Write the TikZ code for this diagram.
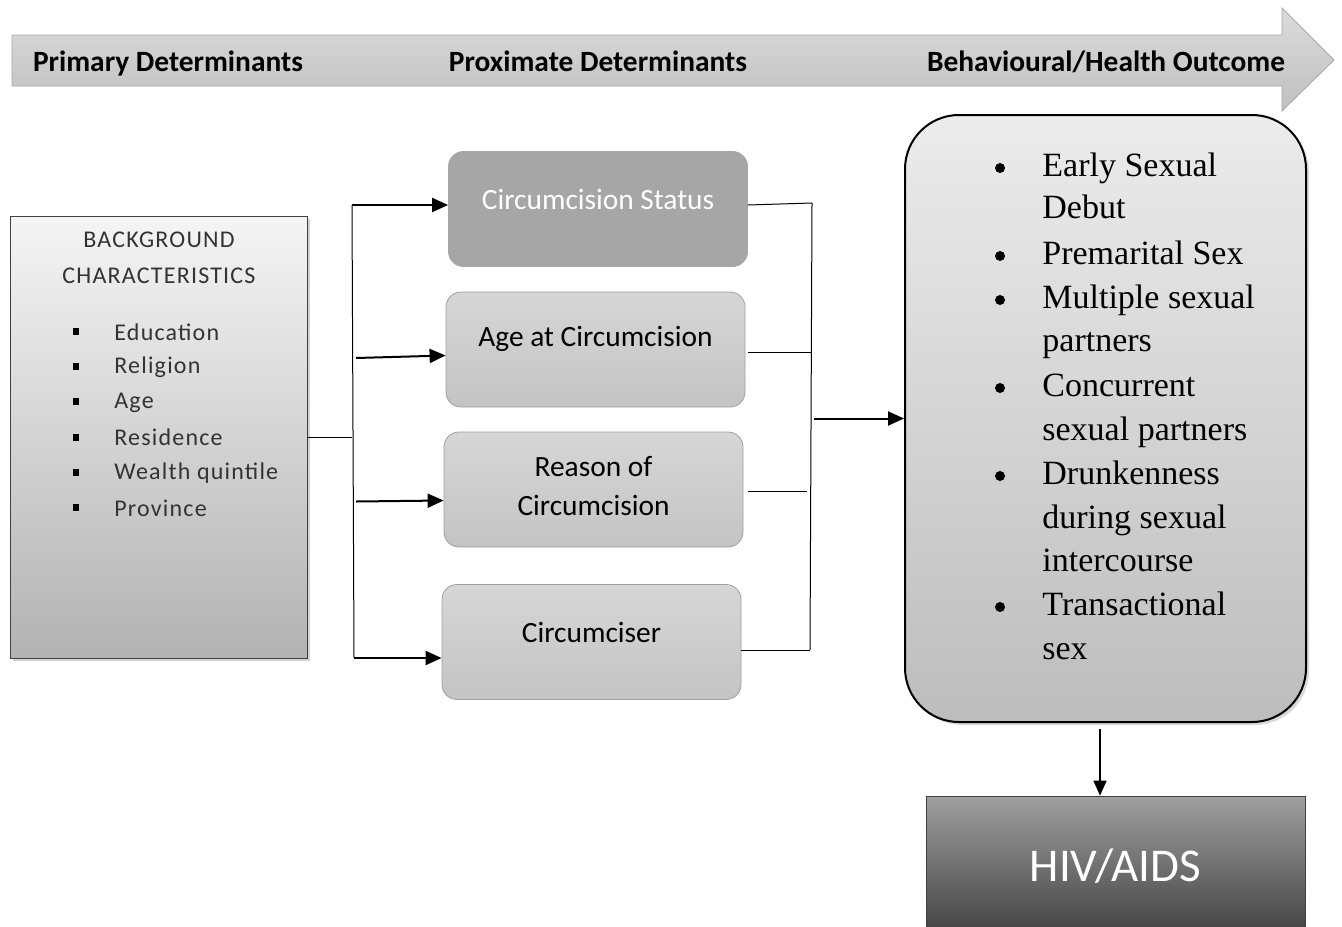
\documentclass[tikz,border=0pt]{standalone}
\usepackage{fontspec}
\setmainfont{Carlito}
\newfontfamily\outcomefont{Liberation Serif}
\newfontfamily\bgfont[LetterSpace=5]{Carlito}
\usetikzlibrary{arrows.meta,shadows}

\definecolor{bannertop}{HTML}{DCDCDC}
\definecolor{bannerbot}{HTML}{BFBFBF}
\definecolor{statfill}{HTML}{A6A6A6}
\definecolor{proxtop}{HTML}{D6D6D6}
\definecolor{proxbot}{HTML}{C4C4C4}

\tikzset{
  headtext/.style={font=\bfseries\fontsize{14.7}{17}\selectfont, anchor=base},
  proxbox/.style={rounded corners=7.5pt, draw=gray!75, top color=proxtop, bottom color=proxbot,
    minimum width=149.5pt, minimum height=57.5pt, inner sep=0pt},
  proxtext/.style={font=\fontsize{14.7}{19.5}\selectfont, align=center, inner sep=0pt},
  bgtext/.style={font=\bgfont\fontsize{12}{14}\selectfont, inner sep=0pt, text=black!80},
  outtext/.style={font=\outcomefont\fontsize{17}{22}\selectfont, anchor=base west, inner sep=0pt},
  thinline/.style={line width=0.5pt},
  thickarrow/.style={line width=1pt, -{Triangle[length=8pt,width=7pt]}},
}

\begin{document}
\begin{tikzpicture}[x=0.5pt,y=-0.5pt]
\useasboundingbox (0,0) rectangle (1342,926);

% timeline banner
\shade [top color=bannertop, bottom color=bannerbot, draw=gray!70]
  (12,35) -- (1282,35) -- (1282,8) -- (1334,60) -- (1282,111) -- (1282,86) -- (12,86) -- cycle;
\node [headtext] (primary) at (168,71) {Primary Determinants};
\node [headtext] (proximate) at (598,71) {Proximate Determinants};
\node [headtext] (behaviour) at (1106,71) {Behavioural/Health Outcome};

% background characteristics
\node [draw=black!75, top color=gray!8, bottom color=gray!60, minimum width=148.5pt, minimum height=221pt,
  drop shadow={opacity=0.35, shadow xshift=1.5pt, shadow yshift=-1.5pt}] (bg) at (158.5,437) {};
\node [bgtext] (bg-t1) at (159,240) {BACKGROUND};
\node [bgtext] (bg-t2) at (159,276) {CHARACTERISTICS};
\foreach \item [count=\n] in {Education,Religion,Age,Residence,Wealth quintile,Province} {
  \fill [black] (73,328+35.2*\n-35.2) rectangle +(6,7);
  \node [bgtext, anchor=west] (bg-i\n) at (114,332+35.2*\n-35.2) {\item};
}

% proximate determinants
\node [proxbox, fill=statfill, top color=statfill, bottom color=statfill, draw=statfill] (stat) at (598,209) {};
\node [proxtext, text=white] (stat-t) at (598,199) {Circumcision Status};
\node [proxbox] (age) at (595.5,349.5) {};
\node [proxtext] (age-t) at (595.5,339) {Age at Circumcision};
\node [proxbox] (reason) at (593.5,489.5) {};
\node [proxtext] (reason-t) at (593.5,486.5) {Reason of\\Circumcision};
\node [proxbox] (circ) at (591.5,642) {};
\node [proxtext] (circ-t) at (591.5,632) {Circumciser};

% left bracket
\coordinate (lb-top) at (352,205);
\coordinate (lb-bot) at (354,658);
\draw [thinline] (lb-top) -- (lb-bot);
\draw [thinline] (bg.east) -- (bg.east -| lb-top);
\draw [thickarrow] (lb-top) -- (lb-top -| stat.west);
\draw [thickarrow] (age.west -| lb-top) ++(4,8.5) -- ([yshift=-3pt]age.west);
\draw [thickarrow] (reason.west -| lb-top) ++(4,12) -- ([yshift=-5.5pt]reason.west);
\draw [thickarrow] (lb-bot) -- (lb-bot -| circ.west);

% right bracket
\coordinate (rb-top) at (812,203);
\coordinate (rb-bot) at (810,650);
\draw [thinline] (rb-top) -- (rb-bot);
\draw [thinline] ([yshift=2pt]stat.east) -- (rb-top);
\draw [thinline] ([xshift=1.5pt,yshift=-1.5pt]age.east) -- +(64,0);
\draw [thinline] ([xshift=2.5pt,yshift=-1pt]reason.east) -- +(59,0);
\draw [thinline] (rb-bot -| circ.east) -- (rb-bot);

% behavioural outcomes
\node [draw=black, line width=1pt, rounded corners=27pt, top color=gray!15, bottom color=gray!52,
  minimum width=200.5pt, minimum height=303.5pt,
  drop shadow={opacity=0.3, shadow xshift=1.5pt, shadow yshift=-1.5pt}] (outcome) at (1105.5,418.5) {};
\draw [thickarrow] (rb-top |- outcome.west) ++(2,0) -- (outcome.west);
\foreach \txt/\ypos/\bul [count=\n] in {Early Sexual/168/1, Debut/210/0, Premarital Sex/256/1,
    Multiple sexual/300/1, partners/343/0, Concurrent/388/1, sexual partners/432/0,
    Drunkenness/476/1, during sexual/520/0, intercourse/563/0, Transactional/607/1, sex/651/0} {
  \ifnum\bul=1 \fill [black] (1000,\ypos) circle (5); \fi
  \node [outtext] (out-\n) at (1042,\ypos+8) {\txt};
}

% HIV/AIDS
\node [draw=black!75, top color=gray!75, bottom color=gray!98!white!50!black, minimum width=189.5pt, minimum height=70pt,
  font=\fontsize{23.5}{26}\selectfont, text=white] (hiv) at (1115.5,866) {HIV/AIDS};
\draw [line width=0.8pt, -{Triangle[length=7.5pt,width=6.5pt]}] (outcome.south -| 1100,0) ++(0,6) -- (hiv.north -| 1100,0);
\end{tikzpicture}
\end{document}
